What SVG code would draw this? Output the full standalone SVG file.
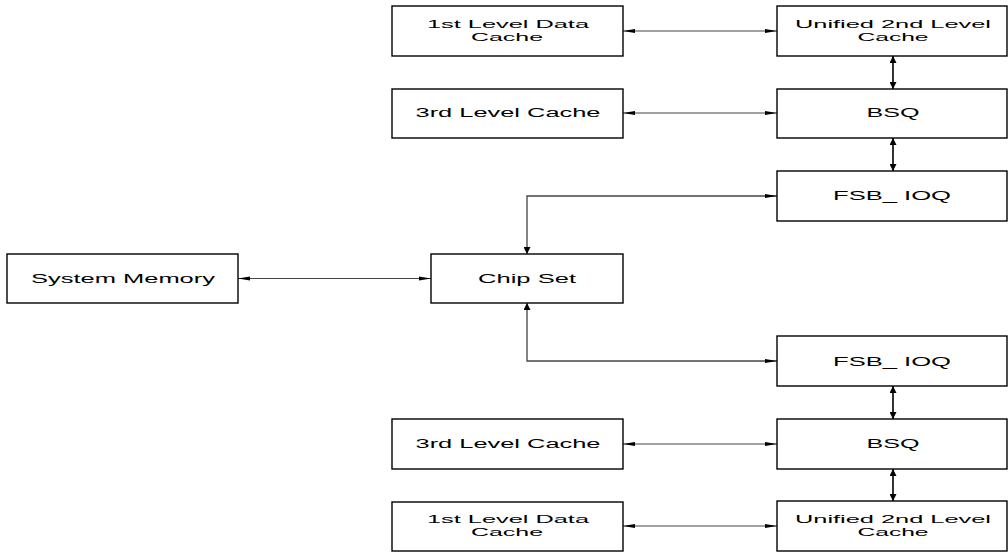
<svg xmlns="http://www.w3.org/2000/svg" width="1008" height="553" viewBox="0 0 1008 553">
<style>
.box{fill:#fff;stroke:#000;stroke-width:1.4}
.t{font-family:"Liberation Sans",Arial,sans-serif;font-size:12.5px;fill:#000;text-anchor:middle}
.t2{font-size:11.5px}
.h{fill:none;stroke:#444;stroke-width:1}
.v{fill:none;stroke:#000;stroke-width:1.6}
</style>
<defs>
<marker id="ah" markerUnits="userSpaceOnUse" markerWidth="12" markerHeight="5" refX="12" refY="2.5" orient="auto-start-reverse" viewBox="0 0 12 5">
<path d="M0,0.5 L12,2.5 L0,4.5 z" fill="#000"/>
</marker>
<marker id="av" markerUnits="userSpaceOnUse" markerWidth="7" markerHeight="7" refX="7" refY="3.5" orient="auto-start-reverse" viewBox="0 0 7 7">
<path d="M0,0 L7,3.5 L0,7 z" fill="#000"/>
</marker>
</defs>
<g id="connectors">
<line class="h" x1="623" y1="31" x2="777" y2="31" marker-start="url(#ah)" marker-end="url(#ah)"/>
<line class="h" x1="623" y1="113" x2="777" y2="113" marker-start="url(#ah)" marker-end="url(#ah)"/>
<line class="h" x1="238" y1="278.5" x2="431" y2="278.5" marker-start="url(#ah)" marker-end="url(#ah)"/>
<line class="h" x1="623" y1="444" x2="777" y2="444" marker-start="url(#ah)" marker-end="url(#ah)"/>
<line class="h" x1="623" y1="526" x2="777" y2="526" marker-start="url(#ah)" marker-end="url(#ah)"/>
<path class="h" d="M527,254 L527,196 L777,196" marker-start="url(#av)" marker-end="url(#ah)" style="stroke-width:1.3"/>
<path class="h" d="M527,303 L527,361 L777,361" marker-start="url(#av)" marker-end="url(#ah)" style="stroke-width:1.3"/>
<line class="v" x1="893" y1="56" x2="893" y2="89" marker-start="url(#av)" marker-end="url(#av)"/>
<line class="v" x1="893" y1="138" x2="893" y2="171" marker-start="url(#av)" marker-end="url(#av)"/>
<line class="v" x1="893" y1="386" x2="893" y2="419" marker-start="url(#av)" marker-end="url(#av)"/>
<line class="v" x1="893" y1="469" x2="893" y2="501" marker-start="url(#av)" marker-end="url(#av)"/>
</g>
<g id="l1top"><rect class="box" x="392" y="6" width="231" height="50"/>
<text class="t t2" x="508" y="28" textLength="162" lengthAdjust="spacingAndGlyphs">1st Level Data</text>
<text class="t t2" x="507" y="41" textLength="72" lengthAdjust="spacingAndGlyphs">Cache</text></g>
<g id="l2top"><rect class="box" x="777" y="6" width="230" height="50"/>
<text class="t t2" x="893" y="28" textLength="196" lengthAdjust="spacingAndGlyphs">Unified 2nd Level</text>
<text class="t t2" x="893" y="41" textLength="71" lengthAdjust="spacingAndGlyphs">Cache</text></g>
<g id="l3top"><rect class="box" x="392" y="89" width="231" height="49"/>
<text class="t" x="508" y="117" textLength="185" lengthAdjust="spacingAndGlyphs">3rd Level Cache</text></g>
<g id="bsqtop"><rect class="box" x="777" y="89" width="230" height="49"/>
<text class="t" x="893" y="117" textLength="53" lengthAdjust="spacingAndGlyphs">BSQ</text></g>
<g id="fsbtop"><rect class="box" x="777" y="171" width="230" height="50"/>
<text class="t" x="892" y="200" textLength="118" lengthAdjust="spacingAndGlyphs">FSB_ IOQ</text></g>
<g id="sysmem"><rect class="box" x="7" y="254" width="231" height="49"/>
<text class="t" x="123" y="283" textLength="184" lengthAdjust="spacingAndGlyphs">System Memory</text></g>
<g id="chipset"><rect class="box" x="431" y="254" width="192" height="49"/>
<text class="t" x="527" y="282.5" textLength="98" lengthAdjust="spacingAndGlyphs">Chip Set</text></g>
<g id="fsbbot"><rect class="box" x="777" y="336" width="230" height="50"/>
<text class="t" x="892" y="365.5" textLength="118" lengthAdjust="spacingAndGlyphs">FSB_ IOQ</text></g>
<g id="l3bot"><rect class="box" x="392" y="419" width="231" height="50"/>
<text class="t" x="508" y="448" textLength="185" lengthAdjust="spacingAndGlyphs">3rd Level Cache</text></g>
<g id="bsqbot"><rect class="box" x="777" y="419" width="230" height="50"/>
<text class="t" x="893" y="448" textLength="53" lengthAdjust="spacingAndGlyphs">BSQ</text></g>
<g id="l1bot"><rect class="box" x="392" y="502" width="231" height="49"/>
<text class="t t2" x="508" y="523" textLength="162" lengthAdjust="spacingAndGlyphs">1st Level Data</text>
<text class="t t2" x="507" y="536" textLength="72" lengthAdjust="spacingAndGlyphs">Cache</text></g>
<g id="l2bot"><rect class="box" x="777" y="501" width="230" height="50"/>
<text class="t t2" x="893" y="523" textLength="196" lengthAdjust="spacingAndGlyphs">Unified 2nd Level</text>
<text class="t t2" x="893" y="536" textLength="71" lengthAdjust="spacingAndGlyphs">Cache</text></g>
</svg>
